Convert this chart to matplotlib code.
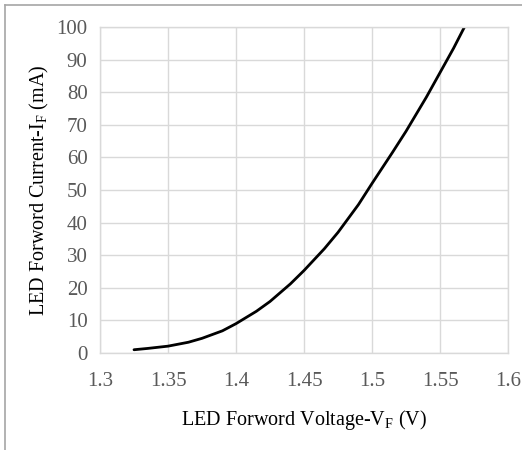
import matplotlib
matplotlib.use("Agg")
from matplotlib import pyplot as plt
from matplotlib.lines import Line2D

# curve
voltage = [1.325, 1.335, 1.35, 1.365, 1.375, 1.39, 1.4, 1.415, 1.425, 1.44, 1.45,
           1.465, 1.475, 1.49, 1.5, 1.515, 1.525, 1.54, 1.55, 1.56, 1.568]
current = [1.0, 1.4, 2.1, 3.3, 4.5, 6.8, 9.0, 12.8, 15.8, 21.2, 25.3,
           32.0, 37.0, 45.5, 52.0, 61.5, 68.0, 78.5, 86.0, 93.5, 100.0]

x_ticks = [1.3, 1.35, 1.4, 1.45, 1.5, 1.55, 1.6]
x_labels = ["1.3", "1.35", "1.4", "1.45", "1.5", "1.55", "1.6"]
y_ticks = [0, 10, 20, 30, 40, 50, 60, 70, 80, 90, 100]

plt.rcParams['font.family'] = ['Liberation Serif', 'DejaVu Serif']
plt.rcParams['mathtext.fontset'] = 'custom'
plt.rcParams['mathtext.rm'] = 'Liberation Serif'

fig = plt.figure(figsize=(5.22, 4.5), dpi=100)
ax = fig.add_axes([100/522, 1 - 353/450, 408/522, 326/450])

ax.plot(voltage, current, color='black', linewidth=2, solid_capstyle='round')

ax.set_xlim(1.3, 1.6)
ax.set_ylim(0, 100)
ax.set_xticks(x_ticks)
ax.set_xticklabels(x_labels)
ax.set_yticks(y_ticks)
ax.grid(True, color='#d9d9d9', linewidth=1)
ax.set_axisbelow(True)
for s in ax.spines.values():
    s.set_color('#d9d9d9')
    s.set_linewidth(1)
ax.tick_params(length=0, labelsize=15, labelcolor='#595959')
ax.tick_params(axis='x', pad=14)
ax.tick_params(axis='y', pad=9)

ax.set_xlabel("LED Forword Voltage-V$_\\mathregular{F}$ (V)", fontsize=14.5, labelpad=12)
ax.set_ylabel("LED Forword Current-I$_\\mathregular{F}$ (mA)", fontsize=14.5, labelpad=4)

# chart border (left and top only visible)
fig.add_artist(Line2D([5/522, 5/522], [0, 1 - 5/450], color='#a6a6a6', linewidth=1.2, transform=fig.transFigure))
fig.add_artist(Line2D([5/522, 1], [1 - 5/450, 1 - 5/450], color='#a6a6a6', linewidth=1.2, transform=fig.transFigure))

fig.savefig("out.png", dpi=100)
